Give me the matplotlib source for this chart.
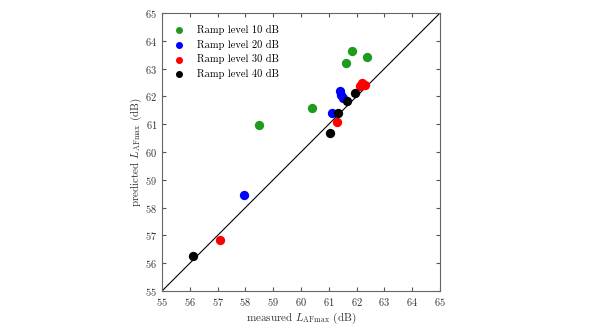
import matplotlib.pyplot as plt

plt.rcParams['font.family'] = 'cmr10'
plt.rcParams['mathtext.fontset'] = 'cm'
plt.rcParams['axes.formatter.use_mathtext'] = True

# measured / predicted LAFmax per ramp level
x10 = [58.5, 60.4, 61.62, 61.83, 62.37]
y10 = [60.97, 61.6, 63.2, 63.65, 63.42]
x20 = [57.95, 61.12, 61.4, 61.45, 61.5]
y20 = [58.45, 61.4, 62.18, 62.05, 61.95]
x30 = [57.1, 61.28, 62.12, 62.2, 62.3]
y30 = [56.84, 61.09, 62.38, 62.47, 62.4]
x40 = [56.1, 61.04, 61.34, 61.64, 61.94]
y40 = [56.25, 60.67, 61.41, 61.83, 62.13]

labels = ['Ramp level 10 dB', 'Ramp level 20 dB', 'Ramp level 30 dB', 'Ramp level 40 dB']
colors = ['#1f9a1f', '#0000ff', '#ff0000', '#000000']

fig = plt.figure(figsize=(5.9, 3.32), dpi=100)
ax = fig.add_axes([0.2746, 0.1235, 0.4712, 0.8373])

ax.plot([55, 65], [55, 65], color='k', lw=0.8, zorder=1)
for xs, ys, lab, c in zip([x10, x20, x30, x40], [y10, y20, y30, y40], labels, colors):
    ax.scatter(xs, ys, s=45, color=c, label=lab, zorder=2, linewidths=0)

ax.set_xlim(55, 65)
ax.set_ylim(55, 65)
ax.set_xticks(range(55, 66))
ax.set_yticks(range(55, 66))
ax.tick_params(direction='in', top=True, right=True, labelsize=7.5, length=3,
               color='#555555', labelcolor='#333333', pad=3.5)
for sp in ax.spines.values():
    sp.set_color('#666666')
    sp.set_linewidth(0.8)
ax.set_xlabel(r'measured $L_{\mathrm{AFmax}}$ (dB)', fontsize=8, color='#333333', labelpad=2)
ax.set_ylabel(r'predicted $L_{\mathrm{AFmax}}$ (dB)', fontsize=8, color='#333333', labelpad=1)
ax.legend(loc='upper left', frameon=False, fontsize=7.5, handletextpad=1.25,
          handlelength=1.0, labelspacing=0.45, borderaxespad=0.75, borderpad=0.4,
          markerscale=0.75)

fig.savefig('out.png', dpi=100)
